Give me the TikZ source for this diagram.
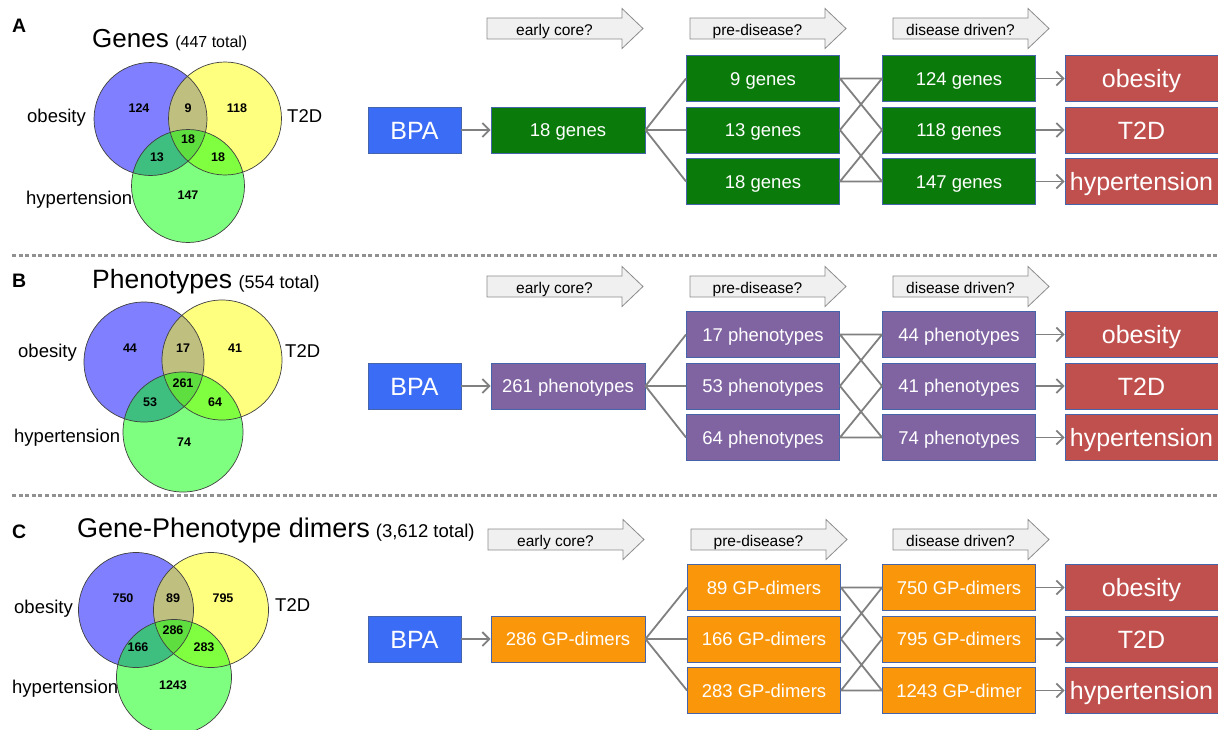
\documentclass[tikz,border=0pt]{standalone}
\usepackage{fontspec}
\setmainfont{Liberation Sans}
\usetikzlibrary{arrows.meta}

\definecolor{bpablue}{RGB}{59,108,245}
\definecolor{genegreen}{RGB}{10,122,10}
\definecolor{phenopurple}{RGB}{128,100,162}
\definecolor{dimerorange}{RGB}{250,150,10}
\definecolor{diseasered}{RGB}{192,80,77}
\definecolor{boxedge}{RGB}{70,100,170}
\definecolor{linkgray}{RGB}{128,128,128}
\definecolor{stagefill}{RGB}{240,240,240}
\definecolor{stageedge}{RGB}{140,140,140}
\definecolor{sepgray}{RGB}{145,145,145}
\definecolor{vblue}{RGB}{0,0,255}
\definecolor{vyellow}{RGB}{255,255,0}
\definecolor{vgreen}{RGB}{0,255,0}

\newcommand{\fs}[1]{\fontsize{#1}{#1}\selectfont}

% block arrow naming a stage: left x, centre y, node name, text
\newcommand{\stagearrow}[4]{%
  \draw[stageshape] (#1,#2-10.5) -- ++(135,0) -- ++(0,-9.5) -- ++(21,20)
     -- ++(-21,20) -- ++(0,-9.5) -- ++(-135,0) -- cycle;
  \node[stagetext] (#3) at (#1+67.5,#2+1) {#4};}

% three-set Venn diagram: centres of the blue, yellow and green circles, radius
\newcommand{\venncircles}[4]{%
  \fill[vblue, fill opacity=0.5] (#1) circle (#4);
  \fill[vyellow, fill opacity=0.5] (#2) circle (#4);
  \fill[vgreen, fill opacity=0.5] (#3) circle (#4);
  \draw[vennline] (#1) circle (#4);
  \draw[vennline] (#2) circle (#4);
  \draw[vennline] (#3) circle (#4);}

\tikzset{
  box/.style={draw=boxedge, line width=0.9pt, text=white, minimum height=46pt,
    inner sep=0pt, font=\fs{18.5}, text height=13.2pt, text depth=0pt},
  bpabox/.style={box, fill=bpablue, minimum width=93pt, font=\fs{25}, text height=18pt},
  genebox/.style={box, fill=genegreen, minimum width=153pt},
  phenobox/.style={box, fill=phenopurple, minimum width=153pt},
  dimerbox/.style={box, fill=dimerorange, minimum width=153pt},
  redbox/.style={box, fill=diseasered, minimum width=153pt, font=\fs{25}, text height=18pt},
  link/.style={draw=linkgray, line width=1.8pt},
  linkarrow/.style={link, -{Straight Barb[length=7pt,width=14pt,line width=1.8pt]}},
  stageshape/.style={fill=stagefill, draw=stageedge, line width=0.8pt, line join=miter},
  stagetext/.style={font=\fs{15.5}, inner sep=0pt, text height=11pt, text depth=0pt},
  vennline/.style={draw=black!75, line width=0.7pt},
  vnum/.style={font=\fs{12.5}\bfseries, inner sep=0pt},
  vlabel/.style={font=\fs{18.5}, inner sep=0pt, anchor=base west},
  paneltag/.style={font=\fs{19.5}\bfseries, inner sep=0pt, anchor=base west},
  title/.style={inner sep=0pt, anchor=base west},
  separator/.style={draw=sepgray, line width=3pt, dash pattern=on 4pt off 2.6pt}
}

\begin{document}
\begin{tikzpicture}[x=1pt, y=-1pt]
\useasboundingbox[fill=white] (0,0) rectangle (1218,729);

% ---------- separators ----------
\draw[separator] (12,255.5) -- (1218,255.5);
\draw[separator] (12,495.5) -- (1218,495.5);

% ================= A: genes =================
\node[paneltag] (tagA) at (12,32) {A};
\node[title] (titleA) at (92,47) {\fs{26}Genes\hspace{6.5pt}\fs{16}(447 total)};
\node[vlabel] (aob) at (27,122) {obesity};
\node[vlabel] (at2) at (287,122) {T2D};
\node[vlabel] (ahy) at (26,204) {hypertension};
\venncircles{150.5,119}{225,118.5}{188,186}{56.5}
\foreach \x/\y/\t [count=\i] in {139/108/124, 188/108/9, 237/108/118, 188/139.5/18,
    157/157/13, 218/157/18, 188/195/147}
  \node[vnum] (an\i) at (\x,\y) {\t};

\stagearrow{487}{28.5}{aE}{early core?}
\stagearrow{690}{28.5}{aP}{pre-disease?}
\stagearrow{893}{28.5}{aD}{disease driven?}

\node[bpabox] (aBPA) at (414.5,130) {BPA};
\node[genebox, minimum width=154pt] (aS) at (568,130) {18 genes};
\node[genebox] (aM1) at (763,78.5) {9 genes};
\node[genebox] (aM2) at (763,130) {13 genes};
\node[genebox] (aM3) at (763,181.5) {18 genes};
\node[genebox] (aR1) at (959,78.5) {124 genes};
\node[genebox] (aR2) at (959,130) {118 genes};
\node[genebox] (aR3) at (959,181.5) {147 genes};
\node[redbox] (aX1) at (1141.5,78.5) {obesity};
\node[redbox] (aX2) at (1141.5,130) {T2D};
\node[redbox] (aX3) at (1141.5,181.5) {hypertension};

\draw[linkarrow] (aBPA) -- (aS);
\draw[link] (aS.east) -- (aM1.west) (aS.east) -- (aM2.west) (aS.east) -- (aM3.west);
\draw[link] (aM1.east) -- (aR1.west) (aM1.east) -- (aR2.west)
            (aM2.east) -- (aR1.west) (aM2.east) -- (aR3.west)
            (aM3.east) -- (aR2.west) (aM3.east) -- (aR3.west);
\draw[linkarrow] (aR1) -- (aX1);
\draw[linkarrow] (aR2) -- (aX2);
\draw[linkarrow] (aR3) -- (aX3);

% ================= B: phenotypes =================
\node[paneltag] (tagB) at (12,287) {B};
\node[title] (titleB) at (92,288) {\fs{26.5}Phenotypes\hspace{6.5pt}\fs{18}(554 total)};
\node[vlabel] (bob) at (18,357) {obesity};
\node[vlabel] (bt2) at (285,357) {T2D};
\node[vlabel] (bhy) at (14,442) {hypertension};
\venncircles{144,362}{222,360}{183,432}{60}
\foreach \x/\y/\t [count=\i] in {130/348/44, 183/348/17, 235/348/41, 183/383/261,
    150/402/53, 215/402/64, 184/442/74}
  \node[vnum] (bn\i) at (\x,\y) {\t};

\stagearrow{487}{286.5}{bE}{early core?}
\stagearrow{690}{286.5}{bP}{pre-disease?}
\stagearrow{893}{286.5}{bD}{disease driven?}

\node[bpabox] (bBPA) at (414.5,386) {BPA};
\node[phenobox, minimum width=154pt] (bS) at (568,386) {261 phenotypes};
\node[phenobox] (bM1) at (763,334.5) {17 phenotypes};
\node[phenobox] (bM2) at (763,386) {53 phenotypes};
\node[phenobox] (bM3) at (763,437.5) {64 phenotypes};
\node[phenobox] (bR1) at (959,334.5) {44 phenotypes};
\node[phenobox] (bR2) at (959,386) {41 phenotypes};
\node[phenobox] (bR3) at (959,437.5) {74 phenotypes};
\node[redbox] (bX1) at (1141.5,334.5) {obesity};
\node[redbox] (bX2) at (1141.5,386) {T2D};
\node[redbox] (bX3) at (1141.5,437.5) {hypertension};

\draw[linkarrow] (bBPA) -- (bS);
\draw[link] (bS.east) -- (bM1.west) (bS.east) -- (bM2.west) (bS.east) -- (bM3.west);
\draw[link] (bM1.east) -- (bR1.west) (bM1.east) -- (bR2.west)
            (bM2.east) -- (bR1.west) (bM2.east) -- (bR3.west)
            (bM3.east) -- (bR2.west) (bM3.east) -- (bR3.west);
\draw[linkarrow] (bR1) -- (bX1);
\draw[linkarrow] (bR2) -- (bX2);
\draw[linkarrow] (bR3) -- (bX3);

% ================= C: gene-phenotype dimers =================
\node[paneltag] (tagC) at (12,538) {C};
\node[title] (titleC) at (77,537) {\fs{27}Gene-Phenotype dimers\hspace{6pt}\fs{18.5}(3,612 total)};
\node[vlabel] (cob) at (14,613) {obesity};
\node[vlabel] (ct2) at (275,611) {T2D};
\node[vlabel] (chy) at (12,693) {hypertension};
\venncircles{136,610}{211,610}{174,677}{57.5}
\foreach \x/\y/\t [count=\i] in {123/598/750, 173/598/89, 223/598/795, 173/630/286,
    138/647/166, 204/647/283, 173/685/1243}
  \node[vnum] (cn\i) at (\x,\y) {\t};

\stagearrow{488}{539.5}{cE}{early core?}
\stagearrow{691}{539.5}{cP}{pre-disease?}
\stagearrow{893}{539.5}{cD}{disease driven?}

\node[bpabox] (cBPA) at (414.5,639) {BPA};
\node[dimerbox, minimum width=154pt] (cS) at (568,639) {286 GP-dimers};
\node[dimerbox] (cM1) at (764,587.5) {89 GP-dimers};
\node[dimerbox] (cM2) at (764,639) {166 GP-dimers};
\node[dimerbox] (cM3) at (764,690.5) {283 GP-dimers};
\node[dimerbox] (cR1) at (959,587.5) {750 GP-dimers};
\node[dimerbox] (cR2) at (959,639) {795 GP-dimers};
\node[dimerbox] (cR3) at (959,690.5) {1243 GP-dimer};
\node[redbox] (cX1) at (1141.5,587.5) {obesity};
\node[redbox] (cX2) at (1141.5,639) {T2D};
\node[redbox] (cX3) at (1141.5,690.5) {hypertension};

\draw[linkarrow] (cBPA) -- (cS);
\draw[link] (cS.east) -- (cM1.west) (cS.east) -- (cM2.west) (cS.east) -- (cM3.west);
\draw[link] (cM1.east) -- (cR1.west) (cM1.east) -- (cR2.west)
            (cM2.east) -- (cR1.west) (cM2.east) -- (cR3.west)
            (cM3.east) -- (cR2.west) (cM3.east) -- (cR3.west);
\draw[linkarrow] (cR1) -- (cX1);
\draw[linkarrow] (cR2) -- (cX2);
\draw[linkarrow] (cR3) -- (cX3);
\end{tikzpicture}
\end{document}
